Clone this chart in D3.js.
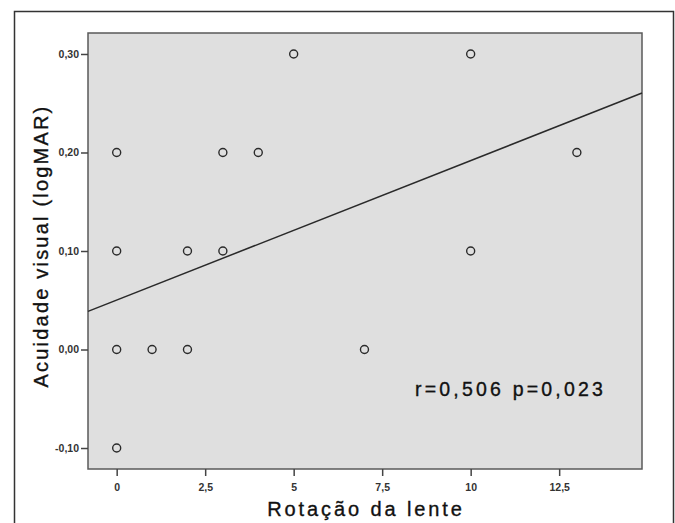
<!DOCTYPE html>
<html>
<head>
<meta charset="utf-8">
<script src="https://cdn.jsdelivr.net/npm/d3@7"></script>
<style>
  body { margin: 0; background: #fff; }
  svg { display: block; font-family: "Liberation Sans", Arial, sans-serif; }
</style>
</head>
<body>
<svg width="675" height="523"></svg>
<script>
// data
var rotacao = [0, 0, 0, 0, 1, 2, 2, 3, 3, 4, 5, 7, 10, 10, 13]
var acuidade = [0.2, 0.1, 0, -0.1, 0, 0.1, 0, 0.2, 0.1, 0.2, 0.3, 0, 0.3, 0.1, 0.2]
var xTicks = [0, 2.5, 5, 7.5, 10, 12.5]
var yTicks = [-0.1, 0, 0.1, 0.2, 0.3]
var fit = [0.0502, 0.01416] // intercept, slope
var stats = 'r=0,506 p=0,023'

var svg = d3.select('svg')
  , m = { left: 88, top: 33, right: 642, bottom: 469 }

var x = d3.scaleLinear().domain([-0.81, 14.84]).range([m.left, m.right])
  , y = d3.scaleLinear().domain([-0.1213, 0.3213]).range([m.bottom, m.top])

var comma = function (d) { return String(d).replace('.', ',') }

// outer frame
svg.append('path')
  .attr('d', 'M14.5,523 V11.5 H673.5 V523')
  .attr('fill', 'none').attr('stroke', '#333').attr('stroke-width', 1.5)

svg.append('rect')
  .attr('x', m.left).attr('y', m.top)
  .attr('width', m.right - m.left).attr('height', m.bottom - m.top)
  .attr('fill', '#dfdfdf').attr('stroke', '#5a5a5a').attr('stroke-width', 1.5)

var xAxis = svg.append('g')
  .attr('transform', 'translate(0,' + m.bottom + ')')
  .call(d3.axisBottom(x).tickValues(xTicks).tickSize(7).tickSizeOuter(0)
    .tickFormat(comma))

var yAxis = svg.append('g')
  .attr('transform', 'translate(' + m.left + ',0)')
  .call(d3.axisLeft(y).tickValues(yTicks).tickSize(7).tickSizeOuter(0)
    .tickFormat(function (d) { return d3.format('.2f')(d).replace('.', ',').replace('−', '-') }))

;[xAxis, yAxis].forEach(function (g) {
  g.select('.domain').remove()
  g.selectAll('line').attr('stroke', '#444').attr('stroke-width', 1.5)
  g.selectAll('text').attr('fill', '#333').style('font-size', '10.5px')
    .style('font-weight', 'bold').style('font-family', '"Liberation Sans", Arial, sans-serif')
})
xAxis.selectAll('text').attr('dy', '1.1em')
yAxis.selectAll('text').attr('x', -9)

// regression line
var x0 = x.domain()[0], x1 = x.domain()[1]
svg.append('line')
  .attr('x1', x(x0)).attr('y1', y(fit[0] + fit[1] * x0))
  .attr('x2', x(x1)).attr('y2', y(fit[0] + fit[1] * x1))
  .attr('stroke', '#2a2a2a').attr('stroke-width', 1.5)

svg.append('g').selectAll('circle')
  .data(rotacao)
  .enter().append('circle')
  .attr('cx', function (d) { return x(d) })
  .attr('cy', function (d, i) { return y(acuidade[i]) })
  .attr('r', 4)
  .attr('fill', 'none').attr('stroke', '#2a2a2a').attr('stroke-width', 1.4)

svg.append('text')
  .attr('x', 415).attr('y', 396)
  .style('font-size', '19.5px').style('letter-spacing', '3.2px')
  .style('stroke', '#111').style('stroke-width', 0.35)
  .attr('fill', '#111')
  .text(stats)

svg.append('text')
  .attr('x', (m.left + m.right) / 2 + 1).attr('y', 516)
  .attr('text-anchor', 'middle')
  .style('font-size', '20px').style('letter-spacing', '2.9px')
  .style('stroke', '#111').style('stroke-width', 0.35)
  .attr('fill', '#111')
  .text('Rotação da lente')

svg.append('text')
  .attr('transform', 'translate(48,' + 246 + ') rotate(-90)')
  .attr('text-anchor', 'middle')
  .style('font-size', '20px').style('letter-spacing', '2.2px')
  .style('stroke', '#111').style('stroke-width', 0.35)
  .attr('fill', '#111')
  .text('Acuidade visual (logMAR)')
</script>
</body>
</html>
